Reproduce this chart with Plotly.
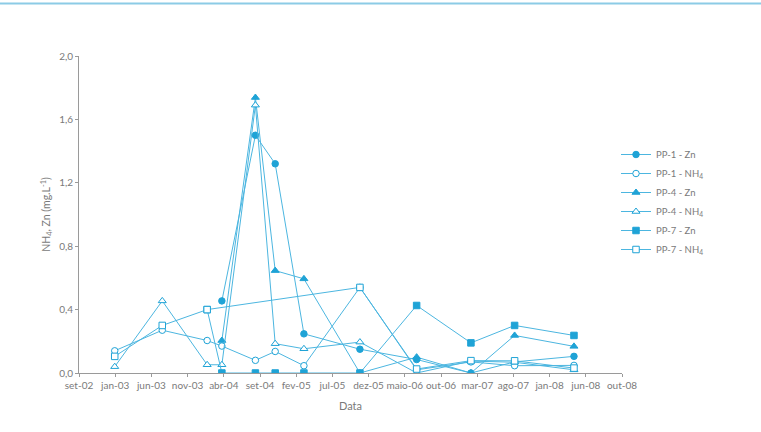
import plotly.graph_objects as go

# ---------------- data ----------------
tick_dates = ["2002-09-01", "2003-01-29", "2003-06-28", "2003-11-25", "2004-04-23",
              "2004-09-20", "2005-02-17", "2005-07-17", "2005-12-14", "2006-05-13",
              "2006-10-10", "2007-03-09", "2007-08-06", "2008-01-03", "2008-06-01",
              "2008-10-29"]
tick_labels = ["set-02", "jan-03", "jun-03", "nov-03", "abr-04", "set-04", "fev-05",
               "jul-05", "dez-05", "maio-06", "out-06", "mar-07", "ago-07", "jan-08",
               "jun-08", "out-08"]

dates_all = ["2003-01-27", "2003-08-12", "2004-02-14", "2004-04-15", "2004-09-01",
             "2004-11-22", "2005-03-21", "2005-11-08", "2006-07-01", "2007-02-11",
             "2007-08-11", "2008-04-13"]
dates_zn = ["2004-04-15", "2004-09-01", "2004-11-22", "2005-03-21", "2005-11-08",
            "2006-07-01", "2007-02-11", "2007-08-11", "2008-04-13"]
dates_pp7_zn = ["2004-02-14", "2004-04-15", "2004-09-01", "2004-11-22", "2005-03-21",
                "2005-11-08", "2006-07-01", "2007-02-11", "2007-08-11", "2008-04-13"]
dates_pp7_nh4 = ["2003-01-27", "2003-08-12", "2004-02-14", "2005-11-08", "2006-07-01",
                 "2007-02-11", "2007-08-11", "2008-04-13"]

pp1_zn = [0.455, 1.50, 1.32, 0.247, 0.15, 0.085, 0.0, 0.07, 0.105]
pp1_nh4 = [0.14, 0.27, 0.205, 0.17, 0.08, 0.136, 0.046, 0.54, 0.02, 0.07, 0.046, 0.048]
pp4_zn = [0.205, 1.738, 0.646, 0.594, 0.0, 0.10, 0.0, 0.237, 0.168]
pp4_nh4 = [0.04, 0.455, 0.052, 0.052, 1.69, 0.185, 0.153, 0.195, 0.0, 0.075, 0.068, 0.02]
pp7_zn = [0.40, 0.0, 0.0, 0.0, 0.0, 0.0, 0.426, 0.19, 0.30, 0.237]
pp7_nh4 = [0.105, 0.30, 0.40, 0.54, 0.025, 0.078, 0.077, 0.031]

series = [
    ("PP-1 - Zn", dates_zn, pp1_zn, "circle", True),
    ("PP-1 - NH<sub>4</sub>", dates_all, pp1_nh4, "circle", False),
    ("PP-4 - Zn", dates_zn, pp4_zn, "triangle-up", True),
    ("PP-4 - NH<sub>4</sub>", dates_all, pp4_nh4, "triangle-up", False),
    ("PP-7 - Zn", dates_pp7_zn, pp7_zn, "square", True),
    ("PP-7 - NH<sub>4</sub>", dates_pp7_nh4, pp7_nh4, "square", False),
]

# ---------------- style ----------------
BLUE = "#1fa3d6"
LINE = "#4cb6e0"
GRAY = "#7a7a7a"
FONT = "Lato"

fig = go.Figure()
for name, xs, ys, sym, filled in series:
    fig.add_trace(go.Scatter(
        x=xs, y=ys, name=name, mode="lines+markers",
        line=dict(color=LINE, width=1),
        marker=dict(symbol=sym, size=6.5 if sym != "triangle-up" else 7,
                    color=BLUE if filled else "white",
                    line=dict(color=BLUE, width=1)),
    ))

W, H = 761, 432
L, R, T, B = 79, 139, 56, 59
pw = W - L - R
ph = H - T - B

fig.update_layout(
    width=W, height=H,
    margin=dict(l=L, r=R, t=T, b=B, autoexpand=False),
    paper_bgcolor="white", plot_bgcolor="white",
    separators=",.",
    font=dict(family=FONT, size=10, color=GRAY),
    showlegend=True,
    legend=dict(x=(616 - L) / pw, y=(373 - 140) / ph, xanchor="left", yanchor="top",
                font=dict(family=FONT, size=9.5, color=GRAY),
                bgcolor="rgba(0,0,0,0)", tracegroupgap=0, itemwidth=30),
    xaxis=dict(
        type="date", automargin=False,
        range=[tick_dates[0], tick_dates[-1]],
        tickmode="array", tickvals=tick_dates, ticktext=tick_labels,
        showgrid=False, zeroline=False,
        showline=True, linecolor="#9a9a9a", linewidth=1,
        ticks="outside", ticklen=3, tickcolor="#9a9a9a",
        tickfont=dict(family=FONT, size=10, color=GRAY),
        title=dict(text="Data", font=dict(family=FONT, size=11, color=GRAY), standoff=12),
    ),
    yaxis=dict(
        range=[0, 2.0], automargin=False,
        tickmode="array", tickvals=[0, 0.4, 0.8, 1.2, 1.6, 2.0],
        tickformat=".1f",
        showgrid=False, zeroline=False,
        showline=True, linecolor="#9a9a9a", linewidth=1,
        ticks="outside", ticklen=3, tickcolor="#9a9a9a",
        tickfont=dict(family=FONT, size=10, color=GRAY),
        title=dict(text="NH<sub>4</sub>, Zn (mg.L<sup>-1</sup>)",
                   font=dict(family=FONT, size=10.5, color=GRAY), standoff=6),
    ),
)

# thin decorative rule across the top of the page
y_top = (H - 3.5 - B) / ph
fig.add_shape(type="line", xref="paper", yref="paper",
              x0=-L / pw, x1=(W - L) / pw, y0=y_top, y1=y_top,
              line=dict(color="#8ccbe6", width=2))

fig.write_html("out.html",
               config={"displayModeBar": False},
               post_script="document.body.style.margin='0';document.body.style.overflow='hidden';")
